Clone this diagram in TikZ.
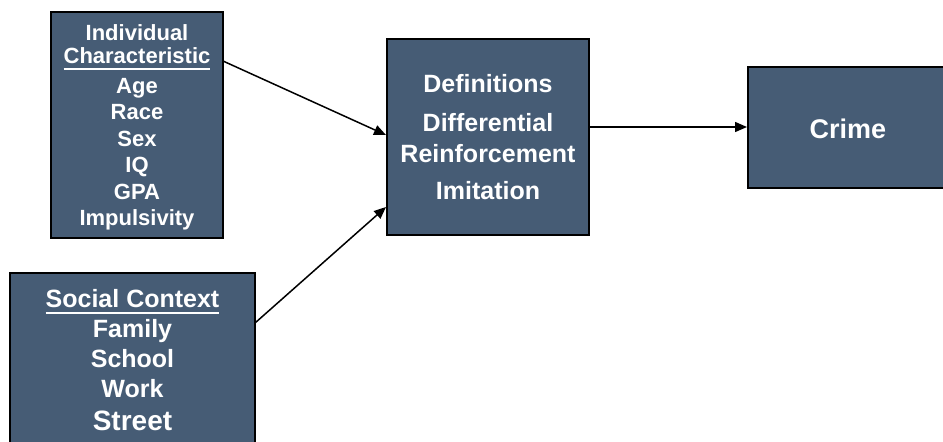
\documentclass[tikz,border=0pt]{standalone}
\usepackage{fontspec}
\setmainfont{Liberation Sans}
\usetikzlibrary{arrows.meta,calc}
\definecolor{boxfill}{RGB}{70,92,117}
\newcommand\myul[1]{\setbox0\hbox{#1}\rlap{\rule[-6.5pt]{\wd0}{2pt}}\box0}
\begin{document}
\begin{tikzpicture}[x=1pt,y=-1pt,
  box/.style={draw=black,line width=1.5pt,fill=boxfill,inner sep=0pt,outer sep=0pt,anchor=north west},
  txt/.style={text=white,inner sep=0pt,anchor=base},
  fa/.style={txt,font=\bfseries\fontsize{22}{26}\selectfont},
  fb/.style={txt,font=\bfseries\fontsize{25}{29}\selectfont},
  fbs/.style={txt,font=\bfseries\fontsize{28}{32}\selectfont},
  fc/.style={txt,font=\bfseries\fontsize{25}{29}\selectfont},
  fd/.style={txt,font=\bfseries\fontsize{27}{31}\selectfont},
  conn/.style={line width=1.5pt,-{Triangle[length=12pt,width=10pt]}}]
\useasboundingbox (0,0) rectangle (943,442);
% boxes
\node[box,minimum width=172pt,minimum height=226pt] (A) at (51,12) {};
\node[box,minimum width=245pt,minimum height=180pt] (B) at (10,273) {};
\node[box,minimum width=202pt,minimum height=196pt] (C) at (387,39) {};
\node[box,minimum width=205pt,minimum height=121pt] (D) at (748,67) {};
% texts A
\node[fa] (a1) at (137,40) {Individual};
\node[fa] (a2) at (137,63) {\myul{Characteristic}};
\node[fa] (a3) at (137,93) {Age};
\node[fa] (a4) at (137,119) {Race};
\node[fa] (a5) at (137,146) {Sex};
\node[fa] (a6) at (137,172) {IQ};
\node[fa] (a7) at (137,199) {GPA};
\node[fa] (a8) at (137,225) {Impulsivity};
% texts B
\node[fb] (b1) at (132.5,307) {\myul{Social Context}};
\node[fb] (b2) at (132.5,337) {Family};
\node[fb] (b3) at (132.5,367) {School};
\node[fb] (b4) at (132.5,397) {Work};
\node[fbs] (b5) at (132.5,430) {Street};
% texts C
\node[fc] (c1) at (488,92) {Definitions};
\node[fc] (c2) at (488,131) {Differential};
\node[fc] (c3) at (488,162) {Reinforcement};
\node[fc] (c4) at (488,199) {Imitation};
% text D
\node[fd] (d1) at (848,138) {Crime};
% connectors
\draw[conn] ($(A.north east)+(0,49)$) -- ($(C.north west)+(-1,96)$);
\draw[conn] ($(B.north east)+(0,50)$) -- ($(C.south west)+(-1,-28)$);
\draw[conn] ($(C.north east)+(0,88)$) -- ($(D.north west)+(-1,60)$);
\end{tikzpicture}
\end{document}
